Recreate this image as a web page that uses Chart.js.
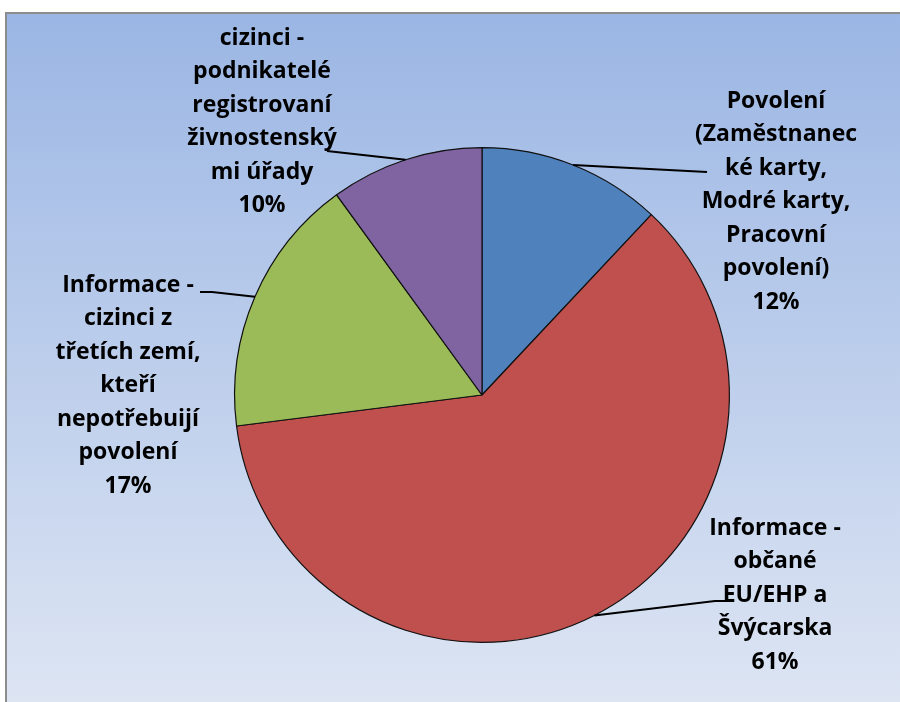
<!DOCTYPE html>
<html>
<head>
<meta charset="utf-8">
<script src="https://cdn.jsdelivr.net/npm/chart.js@4/dist/chart.umd.min.js"></script>
<style>
  html, body { margin: 0; padding: 0; background: #fff; overflow: hidden; }
</style>
</head>
<body>
<canvas id="myChart" width="900" height="702"></canvas>
<script>
// data
const categories = [
  ['Povolení', '(Zaměstnanec', 'ké karty,', 'Modré karty,', 'Pracovní', 'povolení)'],
  ['Informace -', 'občané', 'EU/EHP a', 'Švýcarska'],
  ['Informace -', 'cizinci z', 'třetích zemí,', 'kteří', 'nepotřebuijí', 'povolení'],
  ['cizinci -', 'podnikatelé', 'registrovaní', 'živnostenský', 'mi úřady']
];
const shares = [12, 61, 17, 10];
const sliceColors = ['#4F81BD', '#C0504D', '#9BBB59', '#8064A2'];

// where the label blocks sit (center x, first line y) and where the leader line ends
const labelPos = [
  { x: 776, y: 101, end: [707, 172] },
  { x: 775, y: 528, elbow: [715, 601], end: [725, 601] },
  { x: 128, y: 285, elbow: [212, 292], end: [200, 292] },
  { x: 262, y: 38, end: [327, 151] }
];
const lineHeight = 33.5;
const labelFont = 'bold 23px "Open Sans", "Liberation Sans", sans-serif';

// background + frame
const bgPlugin = {
  id: 'bg',
  beforeDraw(chart) {
    const ctx = chart.ctx;
    ctx.save();
    ctx.fillStyle = '#fff';
    ctx.fillRect(0, 0, chart.width, chart.height);
    const g = ctx.createLinearGradient(0, 13, 0, chart.height);
    g.addColorStop(0, '#9BB6E4');
    g.addColorStop(1, '#DDE5F3');
    ctx.fillStyle = g;
    ctx.fillRect(6, 13, chart.width - 6, chart.height - 13);
    ctx.strokeStyle = '#8C8C8C';
    ctx.lineWidth = 2;
    ctx.beginPath();
    ctx.moveTo(6, chart.height + 2);
    ctx.lineTo(6, 13);
    ctx.lineTo(chart.width + 2, 13);
    ctx.stroke();
    ctx.restore();
  }
};

// labels with leader lines
const labelPlugin = {
  id: 'pieLabels',
  afterDatasetsDraw(chart) {
    const ctx = chart.ctx;
    const arcs = chart.getDatasetMeta(0).data;
    ctx.save();
    arcs.forEach((arc, i) => {
      const p = arc.getProps(['x', 'y', 'startAngle', 'endAngle', 'outerRadius'], true);
      const mid = (p.startAngle + p.endAngle) / 2;
      const ax = p.x + Math.cos(mid) * p.outerRadius;
      const ay = p.y + Math.sin(mid) * p.outerRadius;
      const lp = labelPos[i];
      ctx.strokeStyle = '#000';
      ctx.lineWidth = 2;
      ctx.beginPath();
      ctx.moveTo(ax, ay);
      if (lp.elbow) ctx.lineTo(lp.elbow[0], lp.elbow[1]);
      ctx.lineTo(lp.end[0], lp.end[1]);
      ctx.stroke();

      const lines = categories[i].concat([shares[i] + '%']);
      ctx.fillStyle = '#000';
      ctx.font = labelFont;
      ctx.textAlign = 'center';
      ctx.textBaseline = 'middle';
      lines.forEach((t, k) => ctx.fillText(t, lp.x, lp.y + k * lineHeight));
    });
    ctx.restore();
  }
};

const data = {
  labels: categories,
  datasets: [{
    data: shares,
    backgroundColor: sliceColors,
    borderColor: '#111',
    borderWidth: 1.2
  }]
};

const config = {
  type: 'pie',
  data,
  options: {
    responsive: false,
    animation: false,
    layout: { padding: { left: 234, right: 170, top: 147, bottom: 59 } },
    plugins: {
      legend: { display: false },
      tooltip: { enabled: false }
    }
  },
  plugins: [bgPlugin, labelPlugin]
};

const myChart = new Chart(document.getElementById('myChart'), config);
</script>
</body>
</html>
